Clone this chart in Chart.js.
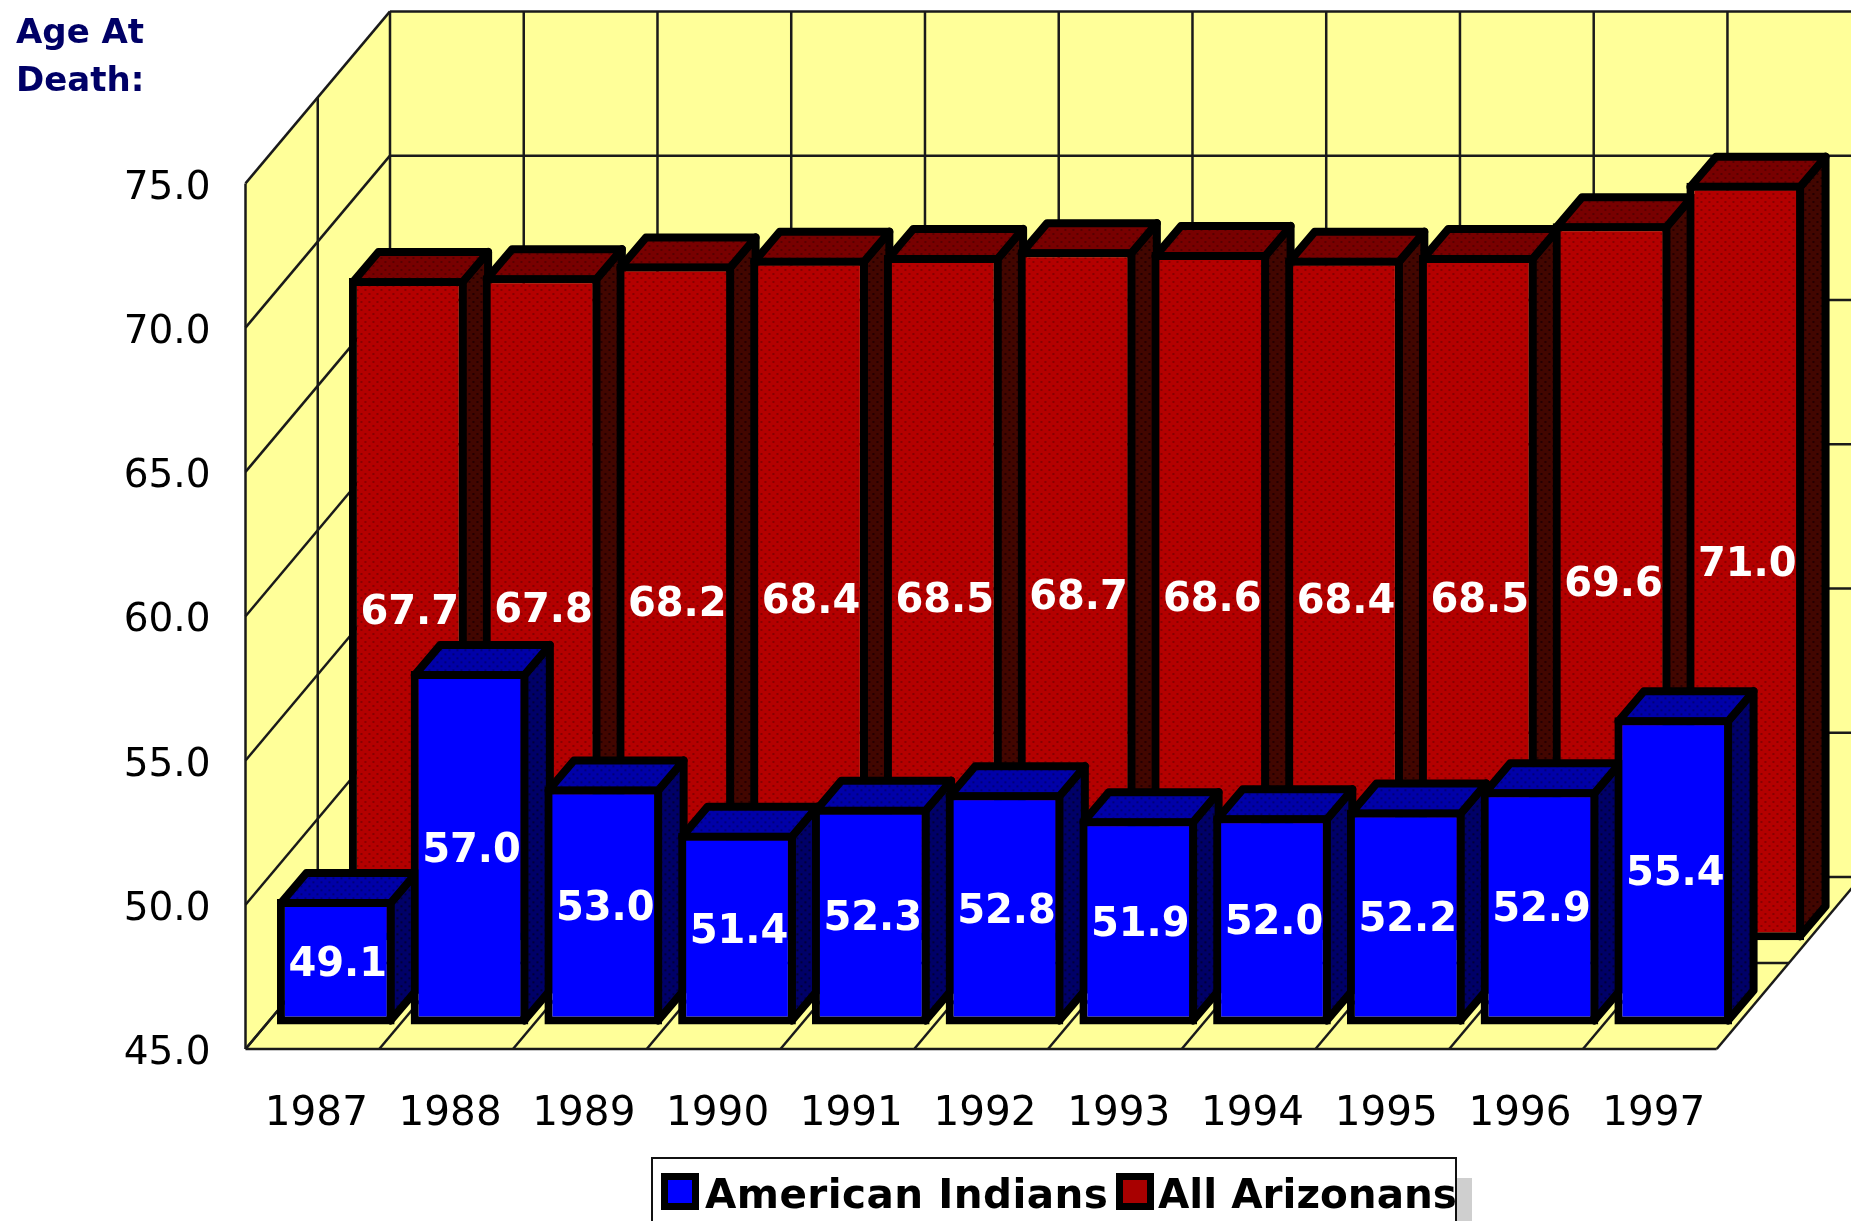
<!DOCTYPE html>
<html lang="en">
<head>
    <meta charset="UTF-8">
    <title>Age At Death</title>
    <style>
        html, body { margin: 0; padding: 0; background: #fff; overflow: hidden; }
        #wrap { position: relative; width: 1851px; height: 1221px; overflow: hidden; }
        canvas { display: block; }
        #legend {
            position: absolute; left: 651px; top: 1157px; width: 806px; height: 100px;
            box-sizing: border-box; border: 2px solid #111; background: #fff;
            box-shadow: 15px 21px 0 #cfcfcf;
            font: bold 40.5px "DejaVu Sans", sans-serif; color: #000;
        }
        #legend .swatch { position: absolute; top: 14px; width: 38px; height: 37px; box-sizing: border-box; border: 7px solid #000; }
        #legend .name { position: absolute; top: 11px; white-space: nowrap; line-height: 48px; }
    </style>
</head>
<body>
<div id="wrap">
    <canvas id="chart" width="1851" height="1221"></canvas>
    <div id="legend"></div>
</div>

<script src="https://cdn.jsdelivr.net/npm/chart.js"></script>
<script>
    const years = ['1987', '1988', '1989', '1990', '1991', '1992', '1993', '1994', '1995', '1996', '1997'];
    const americanIndians = [49.1, 57.0, 53.0, 51.4, 52.3, 52.8, 51.9, 52.0, 52.2, 52.9, 55.4];
    const allArizonans = [67.7, 67.8, 68.2, 68.4, 68.5, 68.7, 68.6, 68.4, 68.5, 69.6, 71.0];
    const yTickLabels = ['45.0', '50.0', '55.0', '60.0', '65.0', '70.0', '75.0'];
    const titleLines = ['Age At', 'Death:'];

    // fake 3D: how far each series and the whole box sit behind the front plane
    const WALL_DEPTH = { x: 144.5, y: 172 };
    const BAR_DEPTH = { x: 25.5, y: 30 };
    const PLANE = [{ x: 23.4, y: 31.7 }, { x: 95.4, y: 116 }];
    const BORDER = 8;
    const GRID = '#1a1a1a';

    // small dither tile, the reference has this on the shaded faces
    function dither(base, dot) {
        const c = document.createElement('canvas');
        c.width = c.height = 8;
        const g = c.getContext('2d');
        g.fillStyle = base;
        g.fillRect(0, 0, 8, 8);
        g.fillStyle = dot;
        g.fillRect(1, 1, 2, 2);
        g.fillRect(5, 5, 2, 2);
        return g.createPattern(c, 'repeat');
    }

    const ctx = document.getElementById('chart').getContext('2d');
    const faces = [
        { top: dither('#0000a8', '#000078'), side: dither('#000068', '#000038') },
        { top: dither('#780000', '#580000'), side: dither('#420600', '#240000') }
    ];

    function poly(g, pts, fill) {
        g.beginPath();
        pts.forEach((p, i) => i ? g.lineTo(p[0], p[1]) : g.moveTo(p[0], p[1]));
        g.closePath();
        if (fill) { g.fillStyle = fill; g.fill(); }
    }

    function line(g, x1, y1, x2, y2) {
        g.beginPath();
        g.moveTo(x1, y1);
        g.lineTo(x2, y2);
        g.stroke();
    }

    const box3d = {
        id: 'box3d',
        // walls and floor, lines come from the scales
        beforeDatasetsDraw(chart) {
            const g = chart.ctx;
            const { left: L, right: R, top: T, bottom: B } = chart.chartArea;
            const dx = WALL_DEPTH.x, dy = WALL_DEPTH.y;
            const xs = chart.scales.x, ys = chart.scales.y;
            g.save();
            poly(g, [[L + dx, T - dy], [R + dx, T - dy], [R + dx, B - dy], [L + dx, B - dy]], '#ffff99');
            poly(g, [[L, T], [L + dx, T - dy], [L + dx, B - dy], [L, B]], '#ffff99');
            poly(g, [[L, B], [R, B], [R + dx, B - dy], [L + dx, B - dy]], '#ffff99');
            g.strokeStyle = GRID;
            g.lineWidth = 2.5;
            ys.ticks.forEach(t => {
                const y = ys.getPixelForValue(t.value);
                line(g, L, y, L + dx, y - dy);
                line(g, L + dx, y - dy, R + dx, y - dy);
            });
            years.forEach((yr, i) => {
                const x = i === 0 ? L : (xs.getPixelForValue(i - 1) + xs.getPixelForValue(i)) / 2;
                line(g, x, B, x + dx, B - dy);
                line(g, x + dx, B - dy, x + dx, T - dy);
            });
            line(g, R, B, R + dx, B - dy);
            line(g, R + dx, B - dy, R + dx, T - dy);
            // half depth lines
            line(g, L + dx / 2, T - dy / 2, L + dx / 2, B - dy / 2);
            line(g, L + dx / 2, B - dy / 2, R + dx / 2, B - dy / 2);
            // box edges
            line(g, L, T, L, B);
            line(g, L, B, R, B);
            g.restore();
        },
        // shift the series to its own plane, tops and sides go behind the fronts
        beforeDatasetDraw(chart, args) {
            const g = chart.ctx;
            const shift = PLANE[args.index];
            const face = faces[args.index];
            const h = BORDER / 2;
            g.save();
            g.translate(shift.x, -shift.y);
            g.save();
            g.strokeStyle = '#000';
            g.lineWidth = BORDER;
            g.lineJoin = 'round';
            args.meta.data.forEach(bar => {
                const l = bar.x - bar.width / 2 + h, r = bar.x + bar.width / 2 - h;
                const t = bar.y + h, b = bar.base - h;
                const dx = BAR_DEPTH.x, dy = BAR_DEPTH.y;
                poly(g, [[r, t], [r + dx, t - dy], [r + dx, b - dy], [r, b]], face.side);
                g.stroke();
                poly(g, [[l, t], [l + dx, t - dy], [r + dx, t - dy], [r, t]], face.top);
                g.stroke();
            });
            g.restore();
        },
        afterDatasetDraw(chart, args) {
            const g = chart.ctx;
            const values = chart.data.datasets[args.index].data;
            g.fillStyle = '#fff';
            g.font = 'bold 40px "DejaVu Sans"';
            g.textAlign = 'center';
            g.textBaseline = 'middle';
            args.meta.data.forEach((bar, i) => {
                g.fillText(values[i].toFixed(1), bar.x + 2, (bar.y + bar.base) / 2 + 4);
            });
            g.restore();
        }
    };

    const chart = new Chart(ctx, {
        type: 'bar',
        data: {
            labels: years,
            datasets: [
                {
                    label: 'American Indians',
                    data: americanIndians,
                    backgroundColor: '#0000ff',
                    order: 1
                },
                {
                    label: 'All Arizonans',
                    data: allArizonans,
                    backgroundColor: dither('#b40000', '#880000'),
                    order: 2
                }
            ]
        },
        options: {
            responsive: false,
            animation: false,
            events: [],
            layout: { padding: { left: 16, right: 134.3, top: 0, bottom: 0 } },
            datasets: {
                bar: {
                    grouped: false,
                    base: 44.75,
                    clip: false,
                    categoryPercentage: 1,
                    barPercentage: 0.88,
                    borderColor: '#000',
                    borderWidth: BORDER,
                    borderSkipped: false
                }
            },
            scales: {
                x: {
                    grid: { display: false },
                    border: { display: false },
                    afterFit(scale) { scale.height = 172; },
                    ticks: {
                        color: '#000',
                        font: { family: 'DejaVu Sans', size: 40.5 },
                        padding: 33,
                        labelOffset: 4,
                        maxRotation: 0,
                        autoSkip: false
                    }
                },
                y: {
                    min: 45,
                    max: 75,
                    grid: { display: false },
                    border: { display: false },
                    afterFit(scale) { scale.width = 229.5; },
                    ticks: {
                        stepSize: 5,
                        color: '#000',
                        font: { family: 'DejaVu Sans', size: 39 },
                        padding: 27,
                        labelOffset: 5,
                        callback: (v, i) => yTickLabels[i]
                    }
                }
            },
            plugins: {
                legend: { display: false },
                tooltip: { enabled: false },
                title: {
                    display: true,
                    text: titleLines,
                    align: 'start',
                    color: '#000066',
                    font: { family: 'DejaVu Sans', size: 34, weight: 'bold', lineHeight: 1.41 },
                    padding: { top: 10, bottom: 77.5 }
                }
            }
        },
        plugins: [box3d]
    });

    // legend as html so the swatches sit tight against the names
    const legendSpots = [{ swatch: 8, name: 52, spacing: 0.45 }, { swatch: 463, name: 505, spacing: 0 }];
    const legendFill = ['#0000ff', '#a80000'];
    const legendBox = document.getElementById('legend');
    chart.data.datasets.forEach((ds, i) => {
        const sw = document.createElement('span');
        sw.className = 'swatch';
        sw.style.left = legendSpots[i].swatch + 'px';
        sw.style.background = legendFill[i];
        const name = document.createElement('span');
        name.className = 'name';
        name.style.left = legendSpots[i].name + 'px';
        name.style.letterSpacing = legendSpots[i].spacing + 'px';
        name.textContent = ds.label;
        legendBox.appendChild(sw);
        legendBox.appendChild(name);
    });
</script>
</body>
</html>
